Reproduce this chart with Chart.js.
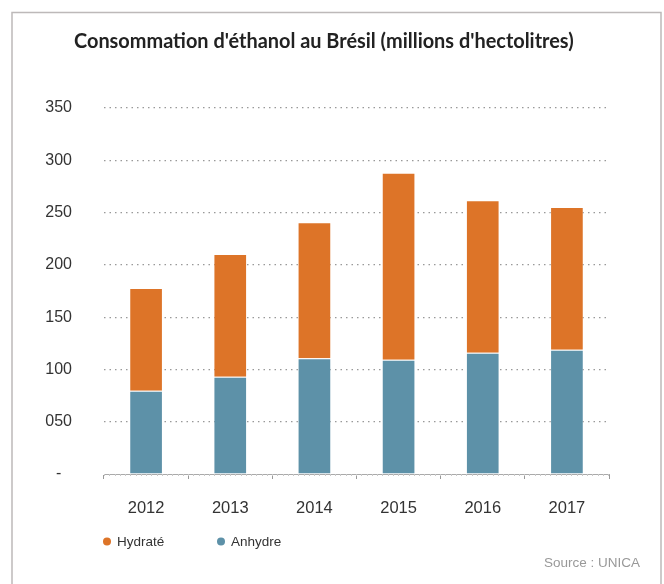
<!DOCTYPE html>
<html>
<head>
<meta charset="utf-8">
<script src="https://cdn.jsdelivr.net/npm/chart.js@4.4.1/dist/chart.umd.min.js"></script>
<style>
  html, body { margin: 0; padding: 0; background: #fff; }
  #wrap { width: 664px; height: 584px; position: relative; }
</style>
</head>
<body>
<div id="wrap"><canvas id="c" width="664" height="584"></canvas></div>
<script>
const categories = ['2012', '2013', '2014', '2015', '2016', '2017'];
const anhydre = [79.5, 93, 110.7, 109.2, 116, 118.8];
const hydrate = [98.3, 117.3, 130, 178.8, 145.8, 136.6];
const yTicks = [0, 50, 100, 150, 200, 250, 300, 350];
const yTickLabels = ['-', '050', '100', '150', '200', '250', '300', '350'];
const titleText = "Consommation d'éthanol au Brésil (millions d'hectolitres)";
const sourceText = 'Source : UNICA';
const seriesNames = ['Hydraté', 'Anhydre'];
const colors = { hydrate: '#DD7428', anhydre: '#5D91A8' };

const decor = {
  id: 'decor',
  beforeDraw(chart) {
    const ctx = chart.ctx;
    ctx.save();
    ctx.strokeStyle = '#bdb9b9';
    ctx.lineWidth = 1.5;
    ctx.strokeRect(12, 12.5, 649, 620);
    ctx.restore();
  },
  afterDraw(chart) {
    const ctx = chart.ctx;
    ctx.save();
    // title, fitted to the reference's width
    ctx.fillStyle = '#222';
    ctx.textBaseline = 'middle';
    ctx.textAlign = 'left';
    ctx.font = 'bold 17px Lato, "Open Sans", sans-serif';
    const w = ctx.measureText(titleText).width;
    const size = 17 * 500 / w;
    ctx.font = 'bold ' + size.toFixed(2) + 'px Lato, "Open Sans", sans-serif';
    ctx.fillText(titleText, 74, 42);
    // minor ticks on x axis
    const xs = chart.scales.x;
    const yb = chart.chartArea.bottom;
    ctx.strokeStyle = '#c8c8c8';
    ctx.lineWidth = 1;
    for (let x = xs.left; x <= xs.right; x += 5.25) {
      ctx.beginPath();
      ctx.moveTo(Math.round(x) + 0.5, yb);
      ctx.lineTo(Math.round(x) + 0.5, yb + 2);
      ctx.stroke();
    }
    // legend
    ctx.font = '13.5px "Liberation Sans", Arial, sans-serif';
    ctx.textBaseline = 'middle';
    const items = [
      { name: seriesNames[0], color: colors.hydrate, x: 107 },
      { name: seriesNames[1], color: colors.anhydre, x: 221 }
    ];
    items.forEach(it => {
      ctx.fillStyle = it.color;
      ctx.beginPath();
      ctx.arc(it.x, 541.5, 4, 0, Math.PI * 2);
      ctx.fill();
      ctx.fillStyle = '#333';
      ctx.fillText(it.name, it.x + 10, 542.5);
    });
    // source
    ctx.fillStyle = '#999';
    ctx.textAlign = 'right';
    ctx.fillText(sourceText, 640, 563);
    ctx.restore();
  }
};

new Chart(document.getElementById('c'), {
  type: 'bar',
  data: {
    labels: categories,
    datasets: [
      { label: seriesNames[1], data: anhydre, backgroundColor: colors.anhydre,
        borderColor: 'rgba(255,255,255,0.35)', borderWidth: { top: 1, left: 1, right: 1, bottom: 0 },
        categoryPercentage: 0.8, barPercentage: 0.5 },
      { label: seriesNames[0], data: hydrate, backgroundColor: colors.hydrate,
        borderColor: 'rgba(255,255,255,0.35)', borderWidth: { top: 1, left: 1, right: 1, bottom: 0 },
        categoryPercentage: 0.8, barPercentage: 0.5 }
    ]
  },
  options: {
    responsive: false,
    animation: false,
    devicePixelRatio: 1,
    layout: { padding: { left: 0, right: 55, top: 108, bottom: 0 } },
    plugins: { legend: { display: false }, title: { display: false }, tooltip: { enabled: false } },
    scales: {
      x: {
        stacked: true,
        afterFit(s) { s.height = 110; },
        border: { display: true, color: '#aaa', width: 1 },
        grid: { display: true, drawOnChartArea: false, drawTicks: true, tickLength: 5, color: '#999', offset: true },
        ticks: { color: '#333', font: { size: 16.5, family: '"Liberation Sans", Arial, sans-serif' }, padding: 20 }
      },
      y: {
        stacked: true,
        min: 0, max: 350,
        afterFit(s) { s.width = 104; },
        afterBuildTicks(s) { s.ticks = yTicks.map(v => ({ value: v })); },
        border: { display: false, dash: [1.5, 4] },
        grid: {
          drawTicks: false,
          color: ctx => (ctx.tick && ctx.tick.value === 0) ? 'rgba(0,0,0,0)' : '#999',
          lineWidth: 1.2
        },
        ticks: {
          color: '#333',
          crossAlign: 'center',
          padding: 32,
          font: { size: 16, family: '"Liberation Sans", Arial, sans-serif' },
          callback: (v) => { const i = yTicks.indexOf(v); return i >= 0 ? yTickLabels[i] : ''; }
        }
      }
    }
  },
  plugins: [decor]
});
</script>
</body>
</html>
